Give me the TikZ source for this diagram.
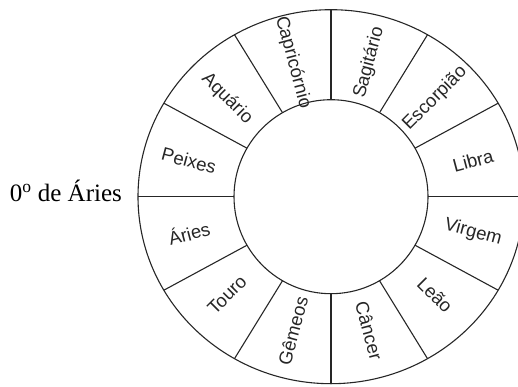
\documentclass[tikz,border=0pt]{standalone}
\usepackage{fontspec}
\setmainfont{Liberation Serif}
\setsansfont{Liberation Sans}
\usetikzlibrary{calc}
\begin{document}
\begin{tikzpicture}[x=1pt,y=1pt,line width=1.1pt,
  sign/.style={font=\sffamily\fontsize{18.5}{21}\selectfont,inner sep=0pt,text=black!85},
  wheel/.style={draw=black!85}]
\useasboundingbox (0,0) rectangle (518,386);
\clip (0,0) rectangle (518,386);
\coordinate (c) at (331,189.3);
\draw[wheel] (c) ellipse [x radius=193, y radius=187];
\draw[wheel] (c) circle [radius=97];
\foreach \a in {0,30,...,330}{
  \coordinate (in\a) at ($(c)+(\a:97)$);
  \coordinate (out\a) at ($(c)+({193*cos(\a)},{187*sin(\a)})$);
  \draw[wheel] (in\a) -- (out\a);
}
\foreach \a/\t in {15/Libra,45/Escorpião,75/Sagitário,105/Capricórnio,135/Aquário,165/Peixes,195/Áries,225/Touro,255/Gêmeos,285/Câncer,315/Leão,345/Virgem}{
  \pgfmathsetmacro{\rot}{cos(\a)>0 ? \a : \a+180}
  \node[sign,rotate=\rot] (s\a) at ($(c)+({147*cos(\a)},{139*sin(\a)})$) {\t};
}
\node[anchor=base west,inner sep=0pt,font=\fontsize{25}{29}\selectfont] (zero) at (9.3,184.3) {0\textsuperscript{o} de Áries};
\end{tikzpicture}
\end{document}
